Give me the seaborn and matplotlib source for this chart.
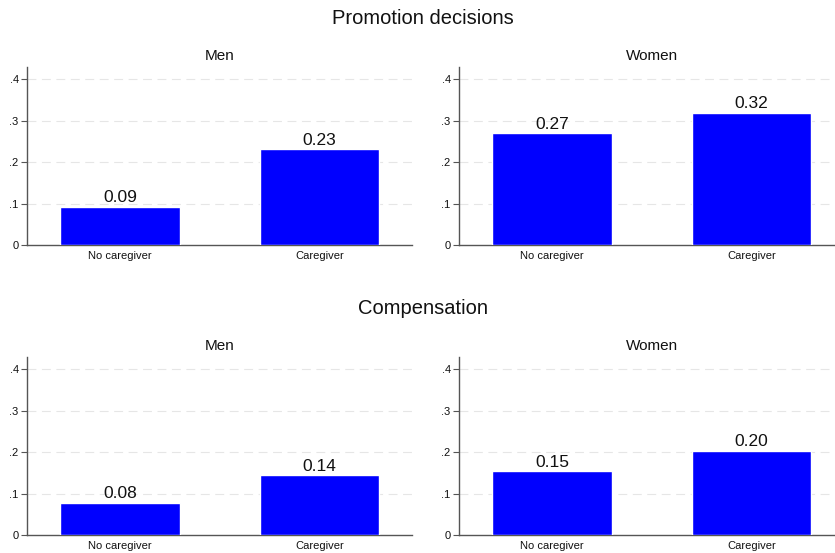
import matplotlib
matplotlib.use("Agg")
import matplotlib.pyplot as plt
import seaborn as sns
import pandas as pd

# Values
categories = ["No caregiver", "Caregiver"]
promo_men = [0.092, 0.231]
promo_women = [0.270, 0.320]
comp_men = [0.077, 0.144]
comp_women = [0.154, 0.204]
yticks = [0, 0.1, 0.2, 0.3, 0.4]
ytick_labels = ["0", ".1", ".2", ".3", ".4"]

sns.set_theme(style="white")
plt.rcParams["font.family"] = ["Liberation Sans", "DejaVu Sans"]

BLUE = "#0000FF"
SPINE = "#555555"
TXT = "#111111"

fig = plt.figure(figsize=(8.35, 5.53), dpi=100)


def panel(rect, values, subtitle):
    ax = fig.add_axes(rect)
    df = pd.DataFrame({"group": categories, "value": values})
    sns.barplot(data=df, x="group", y="value", color=BLUE, saturation=1,
                width=0.6, ax=ax, zorder=3)
    ax.set_xlim(-0.468, 1.465)
    ax.set_ylim(0, 0.43)
    ax.set_yticks(yticks)
    ax.set_yticklabels(ytick_labels)
    for y in yticks[1:]:
        ax.axhline(y, color="#e6e6e6", lw=0.8, ls=(0, (8, 5)), zorder=1)
    for i, v in enumerate(values):
        ax.text(i, v + 0.004, f"{v:.2f}", ha="center", va="bottom",
                fontsize=12.5, color=TXT, zorder=4)
    ax.set_xlabel("")
    ax.set_ylabel("")
    ax.set_title(subtitle, fontsize=11, color=TXT, pad=5)
    for s in ["top", "right"]:
        ax.spines[s].set_visible(False)
    for s in ["left", "bottom"]:
        ax.spines[s].set_color(SPINE)
        ax.spines[s].set_linewidth(1.0)
    ax.tick_params(axis="y", left=True, length=4, width=0.8, color=SPINE,
                   labelsize=8, pad=2, labelcolor=TXT)
    ax.tick_params(axis="x", bottom=False, length=0, labelsize=8, pad=4,
                   labelcolor=TXT)
    return ax


ax_w = 385 / 835
top_h = (245 - 67) / 553
bot_h = (535 - 357) / 553

panel([27 / 835, 1 - 245 / 553, ax_w, top_h], promo_men, "Men")
panel([459 / 835, 1 - 245 / 553, ax_w, top_h], promo_women, "Women")
panel([27 / 835, 1 - 535 / 553, ax_w, bot_h], comp_men, "Men")
panel([459 / 835, 1 - 535 / 553, ax_w, bot_h], comp_women, "Women")

fig.text(423 / 835, 1 - 19 / 553, "Promotion decisions", ha="center",
         va="center", fontsize=14.5, color=TXT)
fig.text(423 / 835, 1 - 308 / 553, "Compensation", ha="center",
         va="center", fontsize=14.5, color=TXT)

fig.savefig("out.png", dpi=100, facecolor="white")
